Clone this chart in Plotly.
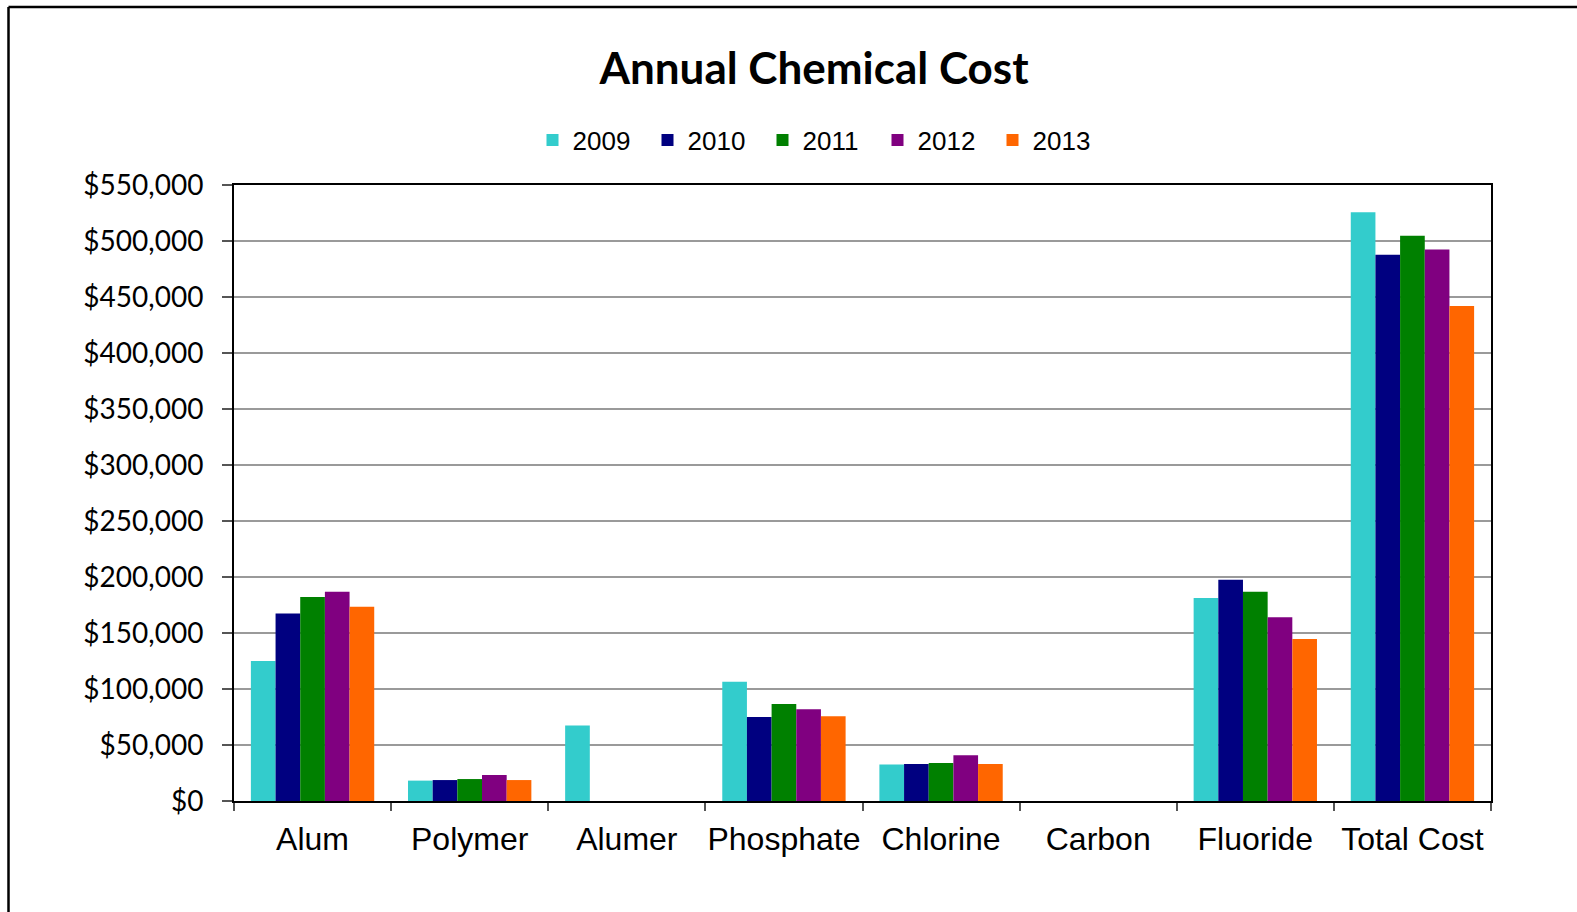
import plotly.graph_objects as go

# Chemical categories and yearly costs (USD)
categories = ["Alum", "Polymer", "Alumer", "Phosphate", "Chlorine", "Carbon", "Fluoride", "Total Cost"]
years = ["2009", "2010", "2011", "2012", "2013"]

cost_2009 = [125000, 18200, 67300, 106500, 32700, 0, 181300, 525700]
cost_2010 = [167300, 18700, 0, 75000, 33000, 0, 197500, 487700]
cost_2011 = [182100, 19600, 0, 86600, 33900, 0, 186900, 504600]
cost_2012 = [186900, 23200, 0, 81900, 40800, 0, 164100, 492300]
cost_2013 = [173500, 18700, 0, 75600, 33000, 0, 144700, 441900]

series = [cost_2009, cost_2010, cost_2011, cost_2012, cost_2013]
colors = ["#33CCCC", "#000080", "#008000", "#800080", "#FF6600"]

fig = go.Figure()
for year, values, color in zip(years, series, colors):
    fig.add_trace(go.Bar(
        x=categories, y=values, name=year,
        marker=dict(color=color, line=dict(width=0)),
    ))

# Pixel layout helpers for the outer frame
W, H = 1577, 912
L, R, T, B = 234, 1491, 185, 801


def px_x(p):
    return (p - L) / (R - L)


def px_y(p):
    return (B - p) / (B - T)


frame_top = px_y(7)
frame_left = px_x(8.5)

fig.update_layout(
    width=W, height=H,
    margin=dict(l=L, r=W - R, t=T, b=H - B, pad=0, autoexpand=False),
    paper_bgcolor="white", plot_bgcolor="white",
    barmode="group", bargap=0.215, bargroupgap=0,
    title=dict(
        text="<b>Annual Chemical Cost</b>",
        font=dict(family="Lato", size=44, color="black"),
        x=814 / W, xanchor="center", xref="container",
        y=1 - 69 / H, yanchor="middle", yref="container",
    ),
    legend=dict(
        orientation="h",
        x=px_x(820), xanchor="center",
        y=px_y(140), yanchor="middle",
        font=dict(family="Liberation Sans", size=26, color="black"),
        bgcolor="rgba(0,0,0,0)",
        entrywidth=70, entrywidthmode="pixels",
        traceorder="normal",
    ),
    xaxis=dict(
        type="category",
        showline=True, linecolor="black", linewidth=2, mirror=True,
        ticks="outside", ticklen=8, tickcolor="#555555", tickwidth=1.5,
        tickson="boundaries", tickangle=0, automargin=False,
        tickfont=dict(family="Liberation Sans", size=32, color="black"),
        ticklabelstandoff=9,
        showgrid=False, fixedrange=True,
    ),
    yaxis=dict(
        range=[0, 550000], dtick=50000, tick0=0,
        tickprefix="$", tickformat=",d", automargin=False,
        showline=True, linecolor="black", linewidth=2, mirror=True,
        ticks="outside", ticklen=10, tickcolor="#555555", tickwidth=1.5,
        tickfont=dict(family="Lato", size=28, color="black"),
        ticklabelstandoff=13,
        showgrid=True, gridcolor="#9a9a9a", gridwidth=1.5,
        zeroline=False, fixedrange=True,
    ),
    shapes=[
        dict(type="line", xref="paper", yref="paper",
             x0=frame_left, x1=px_x(W + 20), y0=frame_top, y1=frame_top,
             line=dict(color="black", width=2.5)),
        dict(type="line", xref="paper", yref="paper",
             x0=frame_left, x1=frame_left, y0=frame_top, y1=px_y(H + 20),
             line=dict(color="black", width=2.5)),
    ],
)

fig.write_html("out.html", config={"displayModeBar": False})
